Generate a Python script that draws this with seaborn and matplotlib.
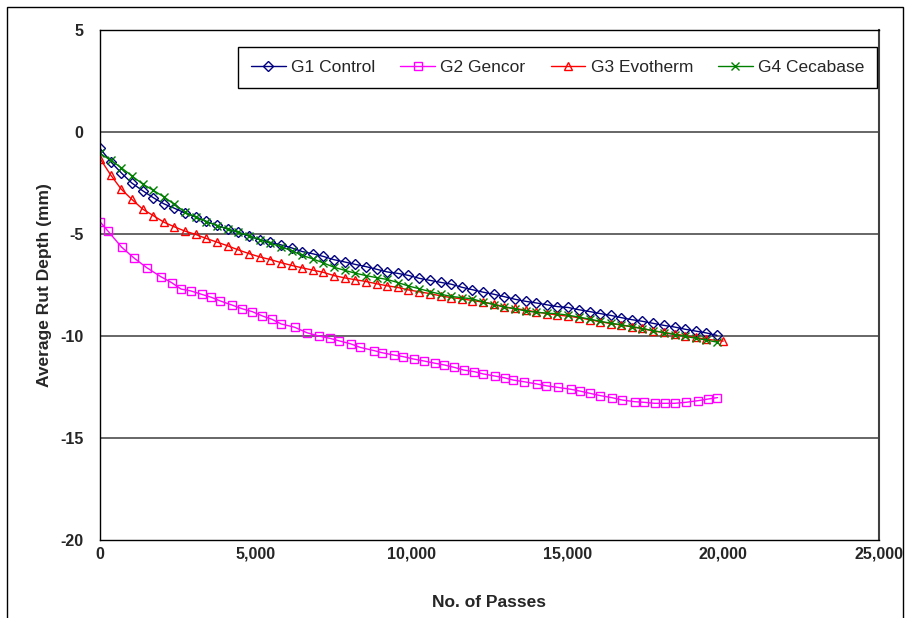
import matplotlib
matplotlib.use("Agg")
import matplotlib.pyplot as plt
import matplotlib.ticker as mticker
from matplotlib.patches import Rectangle
import seaborn as sns
import pandas as pd

# ---- data ----
passes = [0, 340, 680, 1020, 1370, 1710, 2050, 2390, 2730, 3070, 3410, 3760, 4100, 4440,
          4780, 5120, 5460, 5800, 6150, 6490, 6830, 7170, 7510, 7850, 8190, 8540, 8880,
          9220, 9560, 9900, 10240, 10580, 10930, 11270, 11610, 11950, 12290, 12630, 12970,
          13320, 13660, 14000, 14340, 14680, 15020, 15360, 15710, 16050, 16390, 16730,
          17070, 17410, 17750, 18100, 18440, 18780, 19120, 19460, 19800]

passes_g3 = [0, 340, 680, 1020, 1370, 1710, 2050, 2390, 2730, 3070, 3410, 3760, 4100, 4440,
             4780, 5120, 5460, 5800, 6150, 6490, 6830, 7170, 7510, 7850, 8190, 8540, 8880,
             9220, 9560, 9900, 10240, 10580, 10930, 11270, 11610, 11950, 12290, 12630, 12970,
             13320, 13660, 14000, 14340, 14680, 15020, 15360, 15710, 16050, 16390, 16730,
             17070, 17410, 17750, 18100, 18440, 18780, 19120, 19460, 20000]

passes_g2 = [0, 247, 697, 1102, 1500, 1950, 2304, 2603, 2914, 3268, 3567, 3856, 4232, 4553,
             4894, 5215, 5517, 5816, 6244, 6642, 7015, 7368, 7658, 8056, 8355, 8805, 9052,
             9425, 9727, 10067, 10411, 10765, 11054, 11375, 11674, 12018, 12298, 12661, 12982,
             13262, 13602, 14010, 14322, 14695, 15103, 15402, 15723, 16045, 16420, 16765,
             17159, 17458, 17802, 18133, 18445, 18808, 19194, 19515, 19817]

g1_control = [-0.8, -1.45, -2.0, -2.5, -2.88, -3.22, -3.52, -3.74, -3.97, -4.16, -4.38, -4.58,
              -4.76, -4.92, -5.1, -5.27, -5.41, -5.53, -5.68, -5.86, -5.97, -6.1, -6.26, -6.37,
              -6.49, -6.6, -6.73, -6.86, -6.93, -7.03, -7.17, -7.27, -7.37, -7.46, -7.61, -7.73,
              -7.85, -7.95, -8.07, -8.2, -8.3, -8.38, -8.47, -8.56, -8.6, -8.71, -8.8, -8.9,
              -8.99, -9.1, -9.2, -9.28, -9.38, -9.48, -9.56, -9.67, -9.76, -9.85, -9.97]

g2_gencor = [-4.4, -4.84, -5.65, -6.19, -6.65, -7.09, -7.39, -7.70, -7.79, -7.96, -8.10, -8.28,
             -8.48, -8.66, -8.81, -9.02, -9.18, -9.41, -9.57, -9.84, -10.0, -10.11, -10.23,
             -10.39, -10.56, -10.72, -10.82, -10.93, -11.01, -11.13, -11.23, -11.34, -11.42,
             -11.54, -11.67, -11.75, -11.86, -11.96, -12.05, -12.16, -12.24, -12.35, -12.44,
             -12.52, -12.61, -12.70, -12.81, -12.92, -13.02, -13.14, -13.22, -13.25, -13.30,
             -13.30, -13.30, -13.25, -13.17, -13.09, -13.02]

g3_evotherm = [-1.3, -2.1, -2.8, -3.3, -3.78, -4.1, -4.42, -4.65, -4.86, -5.02, -5.22, -5.4,
               -5.58, -5.78, -5.96, -6.12, -6.25, -6.4, -6.54, -6.66, -6.77, -6.88, -7.04,
               -7.15, -7.24, -7.33, -7.44, -7.54, -7.62, -7.74, -7.83, -7.92, -8.03, -8.12,
               -8.18, -8.26, -8.34, -8.43, -8.57, -8.65, -8.73, -8.82, -8.9, -8.97, -9.03,
               -9.1, -9.2, -9.3, -9.39, -9.46, -9.54, -9.63, -9.75, -9.82, -9.91, -9.98,
               -10.07, -10.16, -10.25]

g4_cecabase = [-1.05, -1.38, -1.75, -2.15, -2.55, -2.86, -3.18, -3.55, -3.93, -4.17, -4.39,
               -4.59, -4.76, -4.92, -5.08, -5.28, -5.45, -5.62, -5.82, -6.05, -6.22, -6.42,
               -6.63, -6.78, -6.92, -7.04, -7.14, -7.23, -7.38, -7.55, -7.68, -7.82, -7.95,
               -8.06, -8.12, -8.18, -8.33, -8.46, -8.58, -8.67, -8.77, -8.84, -8.88, -8.91,
               -8.98, -9.07, -9.17, -9.28, -9.37, -9.46, -9.55, -9.64, -9.74, -9.84, -9.93,
               -10.02, -10.11, -10.2, -10.3]

labels = ["G1 Control", "G2 Gencor", "G3 Evotherm", "G4 Cecabase"]
x_ticks = [0, 5000, 10000, 15000, 20000, 25000]
y_ticks = [5, 0, -5, -10, -15, -20]

# ---- styling ----
sns.set_style("white")
plt.rcParams["font.family"] = ["Liberation Sans", "DejaVu Sans"]

fig = plt.figure(figsize=(9.09, 6.18), dpi=100)
ax = fig.add_axes([100 / 909, 1 - 540 / 618, 779 / 909, 510 / 618])

series = [
    (passes, g1_control, labels[0], "#000080", "D", 4.8),
    (passes_g2, g2_gencor, labels[1], "#FF00FF", "s", 5.8),
    (passes_g3, g3_evotherm, labels[2], "#FF0000", "^", 6.4),
    (passes, g4_cecabase, labels[3], "#008000", "x", 5.8),
]

for xs, ys, lab, col, mk, ms in series:
    df = pd.DataFrame({"passes": xs, "depth": ys})
    sns.lineplot(data=df, x="passes", y="depth", ax=ax, color=col, lw=1.0,
                 marker=mk, markersize=ms, markerfacecolor="none",
                 markeredgecolor=col, markeredgewidth=1.0, label=lab,
                 estimator=None, sort=False)

ax.set_xlim(0, 25000)
ax.set_ylim(-20, 5)
ax.set_xticks(x_ticks)
ax.set_yticks(y_ticks)
ax.xaxis.set_major_formatter(mticker.FuncFormatter(lambda v, p: f"{int(v):,}"))
ax.yaxis.set_major_formatter(mticker.FuncFormatter(lambda v, p: f"{int(v)}"))

for yv in [0, -5, -10, -15]:
    ax.axhline(yv, color="#5a5a5a", lw=1.3, zorder=0.5)

for s in ax.spines.values():
    s.set_color("black")
    s.set_linewidth(1.0)
ax.spines["right"].set_color("#404040")
ax.spines["right"].set_linewidth(1.5)

ax.tick_params(axis="y", direction="out", length=4, width=1, color="black",
               labelsize=11.5, pad=8)
ax.tick_params(axis="x", direction="out", length=4, width=1, color="black",
               labelsize=11.5, pad=1)
for t in ax.get_xticklabels() + ax.get_yticklabels():
    t.set_fontweight("bold")

ax.set_xlabel("No. of Passes", fontsize=12.5, fontweight="bold", labelpad=24)
ax.set_ylabel("Average Rut Depth (mm)", fontsize=12.5, fontweight="bold", labelpad=6)

leg = ax.legend(loc="upper right", bbox_to_anchor=(0.998, 0.967), ncol=4, frameon=True,
                fancybox=False, edgecolor="black", framealpha=1, fontsize=12.5,
                handlelength=2.0, handletextpad=0.3, columnspacing=1.45,
                borderpad=0.75, borderaxespad=0)
leg.get_frame().set_linewidth(1.0)

# chart area border
fig.patches.append(Rectangle((7 / 909, -0.05), 896 / 909, 1 - 7 / 618 + 0.05,
                             transform=fig.transFigure, fill=False,
                             edgecolor="black", lw=1.0))

fig.savefig("out.png", dpi=100)
